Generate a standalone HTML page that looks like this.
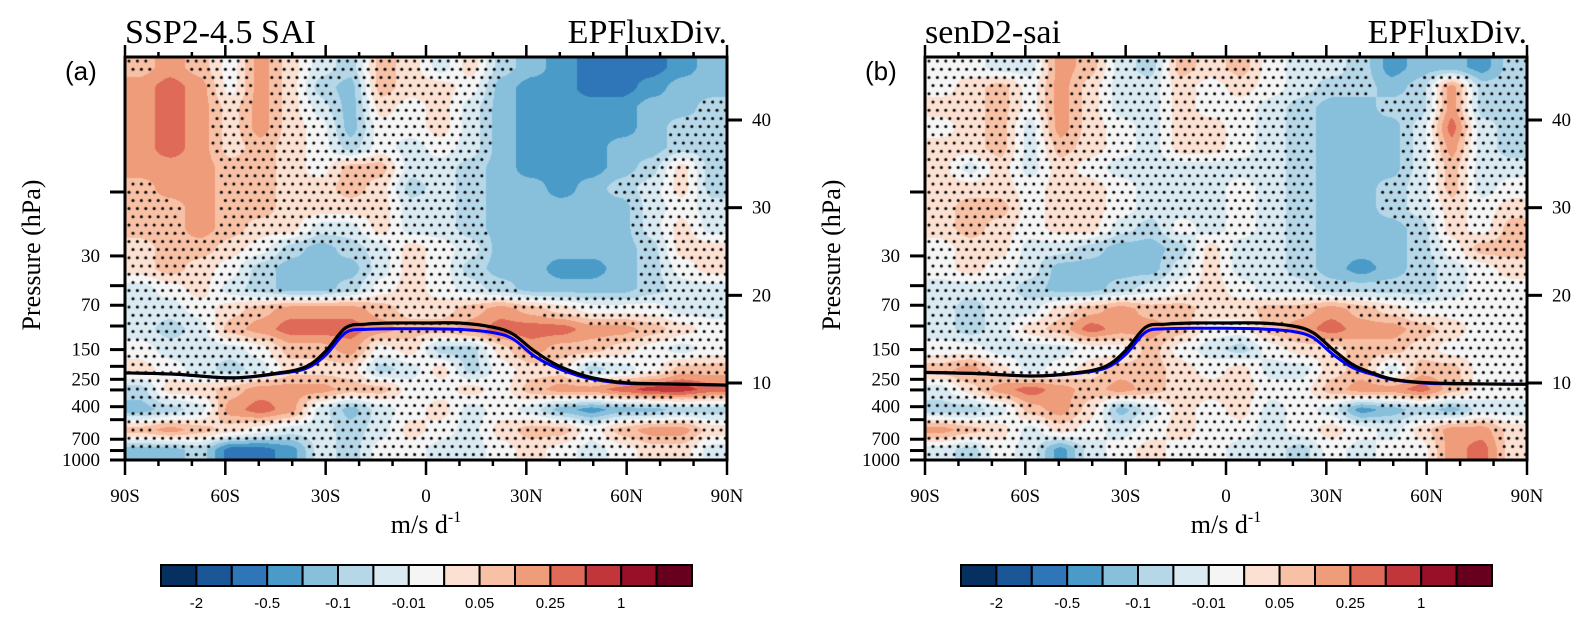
<!DOCTYPE html>
<html><head><meta charset="utf-8"><style>
html,body{margin:0;padding:0;background:#fff;}
#wrap{position:relative;width:1590px;height:625px;overflow:hidden;}
canvas{position:absolute;}
svg{position:absolute;left:0;top:0;display:block;}
</style></head><body>
<div id="wrap">
<canvas id="cvA" width="602" height="403" style="left:125px;top:57px"></canvas>
<canvas id="cvB" width="602" height="403" style="left:925px;top:57px"></canvas>
<svg id="fig" width="1590" height="625" viewBox="0 0 1590 625" xmlns="http://www.w3.org/2000/svg">
<defs>
<clipPath id="clipA"><rect x="125" y="57" width="602" height="403"/></clipPath>
<clipPath id="clipB"><rect x="925" y="57" width="602" height="403"/></clipPath>
</defs>
</svg>
</div>
<script>
// ---- data ----
const levelLabels = ["-2","-0.5","-0.1","-0.01","0.05","0.25","1"];
const colors = ["#05305f","#1b5797","#2f76b8","#4b9bc9","#88c0dc","#b5d7e8","#d9eaf2","#f5f5f5","#fce0d1","#f8c0a5","#ef9c7a","#de6a57","#c1363b","#981027","#67001f"];
const pressureMajor = [30,70,150,250,400,700,1000];
const pressureMinor = [10,50,100,200,300,500,850];
const heightTicks = [10,20,30,40];
const latMajor = [-90,-60,-30,0,30,60,90];
const latMajorLabels = ["90S","60S","30S","0","30N","60N","90N"];
// Field grid: 20 latitude columns (9° each, 90S->90N) x 20 rows (top->bottom, log-p), values = colour class (-7..7)
const fieldA = [
[2,3,2,0,3,1,-1,-2,2,1,-1,1,-2,-3,-4,-5,-5,-5,-4,-3],
[3,4,3,0,3,1,-2,-3,2,1,1,0,-3,-4,-4,-5,-5,-4,-3,-3],
[3,4,3,1,3,1,-1,-3,1,0,1,-1,-3,-4,-4,-4,-4,-3,-3,-2],
[3,4,3,1,3,1,0,-3,0,0,1,-1,-3,-4,-4,-4,-4,-3,-2,-2],
[3,4,3,1,2,1,0,-2,0,-1,0,-1,-3,-4,-4,-4,-3,-3,-2,-2],
[3,3,3,2,2,1,0,2,2,-1,-1,-2,-3,-4,-4,-4,-3,-2,1,-2],
[2,3,3,2,2,1,1,2,1,-2,-1,-2,-3,-3,-4,-3,-2,-1,1,-2],
[2,2,3,2,2,1,1,1,1,-1,-1,-2,-3,-3,-3,-3,-3,-1,0,-1],
[2,2,3,2,1,1,-1,-1,1,-1,-1,-2,-3,-3,-3,-3,-3,-1,1,-1],
[1,2,2,1,0,-2,-3,-2,-1,1,0,-1,-3,-3,-3,-3,-3,-2,1,1],
[1,2,1,0,-2,-3,-3,-3,-1,1,0,-2,-3,-3,-4,-4,-3,-2,0,1],
[-1,0,1,-1,-2,-3,-3,-2,0,1,0,-1,-2,-3,-3,-3,-3,-2,-1,-1],
[-1,-1,0,1,2,3,3,3,2,1,1,2,3,2,1,0,0,0,-1,-1],
[-1,-2,-1,2,3,4,4,4,3,2,2,3,4,4,4,3,3,2,1,0],
[0,-1,-1,-1,0,2,2,3,0,1,-2,-2,1,3,2,2,1,0,-1,0],
[1,0,-1,-2,-1,1,1,1,-2,-1,1,-2,0,1,1,-2,-1,0,2,2],
[-2,1,1,2,3,3,3,2,2,0,0,1,0,2,3,3,4,5,5,4],
[-3,-2,-1,3,4,3,-1,-3,-1,0,1,-1,0,-1,-3,-4,-3,-3,-2,-2],
[2,3,2,1,0,-1,-1,-2,-1,1,0,-1,1,2,2,0,2,3,3,1],
[-3,-3,-2,-5,-5,-4,-1,-2,0,0,-1,-1,0,1,0,-1,0,1,1,-1]
];
const fieldB = [
[0,0,-1,-1,3,2,-1,-2,2,1,2,0,-1,-1,-2,-4,-3,-3,-4,-2],
[0,1,2,0,3,1,-1,-1,1,0,1,0,-1,-2,-2,-3,-2,3,-2,-2],
[1,1,2,0,3,1,-1,-1,1,0,0,-1,-2,-3,-3,-2,-2,3,-2,-2],
[0,1,2,-1,3,1,0,-1,1,1,0,-1,-2,-3,-3,-3,-1,4,-1,-2],
[1,1,2,-1,2,1,0,-1,1,1,0,-1,-2,-3,-3,-3,-1,3,-1,-2],
[1,-1,1,-1,1,0,-1,-1,-1,-1,-1,-1,-2,-3,-3,-3,-1,2,-1,-1],
[1,1,1,0,1,1,0,-1,-1,-1,0,-1,-2,-3,-3,-2,-1,2,-1,0],
[1,2,2,0,1,1,0,-1,-1,-1,0,-1,-2,-3,-3,-2,-1,1,0,1],
[1,2,1,0,1,1,-1,-2,0,-1,0,-1,-2,-3,-3,-3,-2,1,0,2],
[0,1,1,-1,-1,-2,-3,-3,-2,1,-1,-1,-2,-3,-3,-3,-2,0,2,2],
[0,1,0,-1,-3,-3,-3,-3,-1,1,-1,-1,-2,-3,-4,-3,-2,-1,0,1],
[-1,-1,-1,-2,-3,-3,-2,-1,0,1,0,-1,-1,-2,-2,-2,-2,-1,0,0],
[-1,-2,-1,-1,1,2,3,2,2,1,1,2,2,3,2,1,0,0,0,0],
[-1,-2,-1,1,2,4,3,3,2,0,0,2,3,4,3,3,2,1,0,0],
[0,0,-1,-1,-1,0,0,2,0,-1,-2,0,1,1,2,2,1,0,0,0],
[2,3,1,-1,0,1,2,2,1,0,1,-1,-1,1,2,-1,2,2,0,0],
[-1,1,3,4,3,2,3,2,1,1,1,0,0,2,3,3,4,2,0,0],
[-2,-2,-1,2,3,1,-3,-1,1,0,1,-1,0,-1,-4,-3,-2,-3,-1,-1],
[3,2,1,-1,1,0,-1,0,1,0,0,-1,0,1,0,-1,1,3,3,1],
[-1,-2,0,-1,-4,-1,0,1,0,0,-1,-1,-2,0,-1,0,0,3,4,1]
];
const tropLats = [-90,-75,-58,-45,-36,-30,-24,-18,-10,0,10,20,26,32,38,44,50,60,75,90];
const tropBlackA = [224,229,244,226,202,154,103,97,95,95,95,102,115,151,189,220,244,266,271,276];
const tropBlueA  = [224,229,244,228,208,165,112,106,105,105,106,112,125,165,200,228,250,268,272,276];
const tropBlackB = [222,226,236,224,200,152,102,97,95,95,95,100,112,150,195,225,250,265,270,272];
const tropBlueB  = [222,226,236,226,206,163,111,105,104,104,105,110,122,163,205,230,252,267,271,272];

const NS = "http://www.w3.org/2000/svg";
const svg = document.getElementById("fig");
const TOP = 57, BOT = 460, W = 602, H = 403;
function yP(p){ return BOT - (3 - Math.log10(p)) * 134; }
function yZ(z){ return 383 - (z - 10) * (263/30); }
function xLat(x0, lat){ return x0 + (lat + 90) / 180 * W; }
function el(tag, attrs, parent){ const e = document.createElementNS(NS, tag); for (const k in attrs) e.setAttribute(k, attrs[k]); (parent||svg).appendChild(e); return e; }
function txt(x, y, s, size, fam, anchor, parent){ const t = el("text", {x:x, y:y, "font-size":size, "font-family":fam, "text-anchor":anchor||"start", fill:"#000"}, parent); t.textContent = s; return t; }
const SERIF = '"Liberation Serif", serif', SANS = '"Liberation Sans", sans-serif';
function hex(c){ return [parseInt(c.substr(1,2),16), parseInt(c.substr(3,2),16), parseInt(c.substr(5,2),16)]; }
const rgb = colors.map(hex);

function sampler(field){
  const nC = field[0].length, nR = field.length;
  const cw = W / nC, rh = H / nR;
  return function(px, py){
    let gx = px / cw - 0.5, gy = py / rh - 0.5;
    gx = Math.max(0, Math.min(nC - 1.0001, gx)); gy = Math.max(0, Math.min(nR - 1.0001, gy));
    const i = Math.floor(gx), j = Math.floor(gy);
    let fx = gx - i, fy = gy - j;
    fx = fx * fx * (3 - 2 * fx) * 0.5 + fx * 0.5; fy = fy * fy * (3 - 2 * fy) * 0.5 + fy * 0.5;
    const a = field[j][i], b = field[j][i+1], c = field[j+1][i], d = field[j+1][i+1];
    return (a * (1 - fx) + b * fx) * (1 - fy) + (c * (1 - fx) + d * fx) * fy;
  };
}
function drawField(cvId, field){
  const cv = document.getElementById(cvId), ctx = cv.getContext("2d");
  const img = ctx.createImageData(W, H), f = sampler(field);
  for (let y = 0; y < H; y++) for (let x = 0; x < W; x++){
    let v = Math.round(f(x + 0.5, y + 0.5)); v = Math.max(-7, Math.min(7, v));
    const c = rgb[v + 7], k = (y * W + x) * 4;
    img.data[k] = c[0]; img.data[k+1] = c[1]; img.data[k+2] = c[2]; img.data[k+3] = 255;
  }
  ctx.putImageData(img, 0, 0);
  ctx.fillStyle = "#000";
  let row = 0;
  for (let y = 4; y < H; y += 8.2, row++) for (let x = (row % 2 ? 8 : 4); x < W; x += 8.4){
    if (Math.abs(f(x, y)) < 2.4){ ctx.beginPath(); ctx.arc(x, y, 1.5, 0, Math.PI * 2); ctx.fill(); }
  }
}
function smoothPath(pts){
  let d = "M" + pts[0][0].toFixed(1) + "," + pts[0][1].toFixed(1);
  for (let i = 0; i < pts.length - 1; i++){
    const p0 = pts[Math.max(0, i - 1)], p1 = pts[i], p2 = pts[i + 1], p3 = pts[Math.min(pts.length - 1, i + 2)];
    const c1x = p1[0] + (p2[0] - p0[0]) / 6, c1y = p1[1] + (p2[1] - p0[1]) / 6;
    const c2x = p2[0] - (p3[0] - p1[0]) / 6, c2y = p2[1] - (p3[1] - p1[1]) / 6;
    d += "C" + c1x.toFixed(1) + "," + c1y.toFixed(1) + " " + c2x.toFixed(1) + "," + c2y.toFixed(1) + " " + p2[0].toFixed(1) + "," + p2[1].toFixed(1);
  }
  return d;
}

function panel(x0, field, black, blue, title, tag, clipId, cvId, key){
  drawField(cvId, field);
  const g = el("g", {});
  
  
  const clipG = el("g", {"clip-path": "url(#" + clipId + ")"}, g);
  function path(arr){ return smoothPath(arr.map((p, i) => [xLat(x0, tropLats[i]), yP(p)])); }
  const bl = el("path", {d: path(blue), fill: "none", stroke: "#0000ff", "stroke-width": 3, "stroke-linejoin": "round"}, clipG);
  
  
  const bk = el("path", {d: path(black), fill: "none", stroke: "#000", "stroke-width": 3.2, "stroke-linejoin": "round"}, clipG);
  
  
  const fr = el("rect", {x: x0, y: TOP, width: W, height: H, fill: "none", stroke: "#000", "stroke-width": 3}, g);
  
  
  for (let lat = -90; lat <= 90; lat += 10){
    const x = xLat(x0, lat), major = lat % 30 === 0;
    el("line", {x1:x, x2:x, y1:TOP, y2:TOP - (major ? 12 : 5), stroke:"#000", "stroke-width":2.5}, g);
    el("line", {x1:x, x2:x, y1:BOT, y2:BOT + (major ? 15 : 6), stroke:"#000", "stroke-width":2.5}, g);
  }
  latMajor.forEach((lat, i) => {
    const t = txt(xLat(x0, lat), 502, latMajorLabels[i], 19, SERIF, "middle", g);
    
    
  });
  pressureMajor.concat(pressureMinor).forEach(p => {
    el("line", {x1:x0 - 15, x2:x0, y1:yP(p), y2:yP(p), stroke:"#000", "stroke-width":3}, g);
  });
  pressureMajor.forEach(p => {
    const t = txt(x0 - 25, yP(p) + 6, String(p), 19, SERIF, "end", g);
    
    
  });
  heightTicks.forEach(z => {
    el("line", {x1:x0 + W, x2:x0 + W + 15, y1:yZ(z), y2:yZ(z), stroke:"#000", "stroke-width":3}, g);
    const t = txt(x0 + W + 25, yZ(z) + 6, String(z), 19, SERIF, "start", g);
    
    
  });
  const tl = txt(x0, 43, title, 34, SERIF, "start", g);
  
  
  const tr = txt(x0 + W, 43, "EPFluxDiv.", 34, SERIF, "end", g);
  
  
  const pl = txt(x0 - 60, 80, tag, 26, SANS, "start", g);
  
  
  const yl = txt(0, 0, "Pressure (hPa)", 26, SERIF, "middle", g);
  yl.setAttribute("transform", "translate(" + (x0 - 85) + ",255) rotate(-90)");
  
  
  const xl = el("text", {x: x0 + W / 2, y: 533, "font-size": 26, "font-family": SERIF, "text-anchor": "middle"}, g);
  xl.innerHTML = 'm/s d<tspan font-size="16" dy="-11">-1</tspan>';
  
  
  const cb = el("g", {}, g);
  
  
  const cbx = x0 + 36, bw = 531 / colors.length;
  colors.forEach((c, i) => {
    const b = el("rect", {x: cbx + i * bw, y: 565, width: bw, height: 21, fill: c, stroke: "#000", "stroke-width": 2}, cb);
    
    
  });
  levelLabels.forEach((s, i) => {
    const t = txt(cbx + (1 + 2 * i) * bw, 608, s, 15, SANS, "middle", cb);
    
    
  });
}
panel(125, fieldA, tropBlackA, tropBlueA, "SSP2-4.5 SAI", "(a)", "clipA", "cvA", "panel-a");
panel(925, fieldB, tropBlackB, tropBlueB, "senD2-sai", "(b)", "clipB", "cvB", "panel-b");
</script>
</body></html>
